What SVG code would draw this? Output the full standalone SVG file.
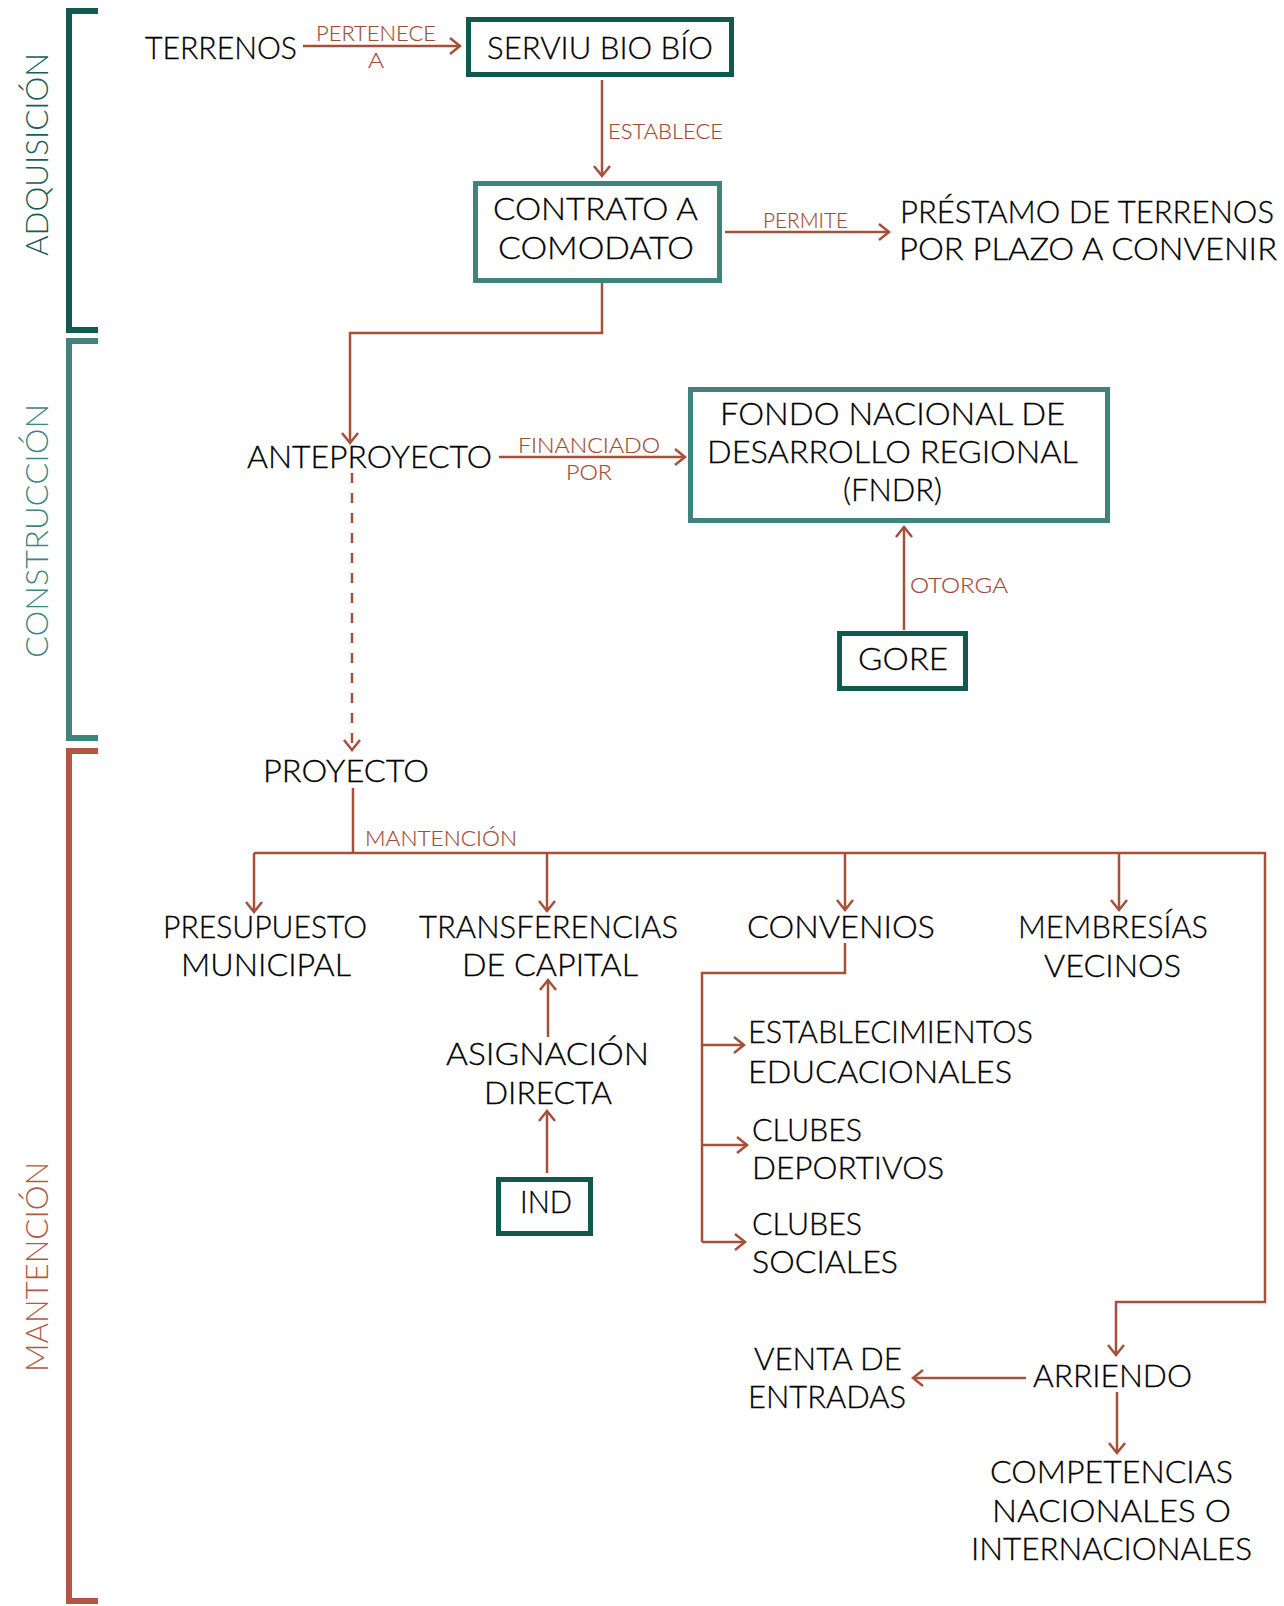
<svg xmlns="http://www.w3.org/2000/svg" width="1284" height="1606" viewBox="0 0 1284 1606">
<defs>
<style>
.t{font-family:Lato,"Liberation Sans",sans-serif;font-weight:300;font-size:31px;fill:#000;stroke:#000;stroke-width:0.3}
.l{font-family:Lato,"Liberation Sans",sans-serif;font-weight:300;font-size:22px;fill:#a04b35;stroke:#a04b35;stroke-width:0.2}
.v{font-family:Lato,"Liberation Sans",sans-serif;font-weight:300;font-size:31px}
.c{fill:none;stroke:#a4503a;stroke-width:2.5}
.a{marker-end:url(#arr)}
.bd{fill:#fff;stroke:#11594f;stroke-width:5}
.bl{fill:#fff;stroke:#3e847c;stroke-width:5}
.br{fill:none;stroke-width:6}
</style>
<marker id="arr" markerUnits="userSpaceOnUse" markerWidth="24" markerHeight="24" viewBox="-12 -12 24 24" refX="0" refY="0" orient="auto">
<path d="M-10,-8 L0,0 L-10,8" fill="none" stroke="#a4503a" stroke-width="2.5"/>
</marker>
</defs>
<rect width="1284" height="1606" fill="#fff"/>

<g id="brackets">
<path class="br" stroke="#14594f" d="M98,11 H69 V330 H98"/>
<path class="br" stroke="#41847c" d="M98,341 H69 V738 H98"/>
<path class="br" stroke="#b05641" d="M98,751 H69 V1601 H98"/>
<text class="v" fill="#1b5e55" transform="translate(48,256) rotate(-90)" textLength="203" lengthAdjust="spacingAndGlyphs">ADQUISICIÓN</text>
<text class="v" fill="#3f8580" transform="translate(48,658) rotate(-90)" textLength="254" lengthAdjust="spacingAndGlyphs">CONSTRUCCIÓN</text>
<text class="v" fill="#b05a45" transform="translate(48,1372) rotate(-90)" textLength="210" lengthAdjust="spacingAndGlyphs">MANTENCIÓN</text>
</g>

<g id="connectors">
<path class="c a" d="M303,46 H460"/>
<path class="c a" d="M602,80 V176"/>
<path class="c a" d="M725,232 H889"/>
<path class="c a" d="M602,283 V333 H350 V443"/>
<path class="c a" d="M499,457 H685"/>
<path class="c a" d="M904,630 V527"/>
<path class="c a" d="M352,473 V750" stroke-dasharray="10 10"/>
<path class="c" d="M353,788 V853"/>
<path class="c a" d="M254,853 H1265 V1302 H1116 V1355"/>
<path class="c a" d="M254,853 V912"/>
<path class="c a" d="M547,853 V911"/>
<path class="c a" d="M845,853 V910"/>
<path class="c a" d="M1119,853 V910"/>
<path class="c a" d="M548,1037 V980"/>
<path class="c a" d="M547,1173 V1111"/>
<path class="c" d="M845,943 V973 H702 V1242"/>
<path class="c a" d="M702,1045 H744"/>
<path class="c a" d="M702,1145 H747"/>
<path class="c a" d="M702,1242 H745"/>
<path class="c a" d="M1026,1378 H913"/>
<path class="c a" d="M1117,1392 V1453"/>
<text class="l" x="316" y="41" textLength="120" lengthAdjust="spacingAndGlyphs">PERTENECE</text>
<text class="l" x="368" y="68" textLength="16" lengthAdjust="spacingAndGlyphs">A</text>
<text class="l" x="608" y="139" textLength="115" lengthAdjust="spacingAndGlyphs">ESTABLECE</text>
<text class="l" x="763" y="228" textLength="85" lengthAdjust="spacingAndGlyphs">PERMITE</text>
<text class="l" x="518" y="453" textLength="142" lengthAdjust="spacingAndGlyphs">FINANCIADO</text>
<text class="l" x="566" y="480" textLength="46" lengthAdjust="spacingAndGlyphs">POR</text>
<text class="l" x="910" y="593" textLength="98" lengthAdjust="spacingAndGlyphs">OTORGA</text>
<text class="l" x="365" y="846" textLength="152" lengthAdjust="spacingAndGlyphs">MANTENCIÓN</text>
</g>

<g id="terrenos"><text class="t" x="145" y="59" textLength="152" lengthAdjust="spacingAndGlyphs">TERRENOS</text></g>
<g id="serviu"><rect class="bd" x="468.5" y="19.5" width="263" height="55"/><text class="t" x="487" y="59" textLength="226" lengthAdjust="spacingAndGlyphs">SERVIU BIO BÍO</text></g>
<g id="contrato"><rect class="bl" x="475.5" y="183.5" width="244" height="97"/><text class="t" x="493" y="220" textLength="205" lengthAdjust="spacingAndGlyphs">CONTRATO A</text><text class="t" x="498" y="259" textLength="196" lengthAdjust="spacingAndGlyphs">COMODATO</text></g>
<g id="prestamo"><text class="t" x="900" y="223" textLength="374" lengthAdjust="spacingAndGlyphs">PRÉSTAMO DE TERRENOS</text><text class="t" x="899" y="260" textLength="378" lengthAdjust="spacingAndGlyphs">POR PLAZO A CONVENIR</text></g>
<g id="anteproyecto"><text class="t" x="247" y="468" textLength="245" lengthAdjust="spacingAndGlyphs">ANTEPROYECTO</text></g>
<g id="fndr"><rect class="bl" x="690.5" y="389.5" width="417" height="131"/><text class="t" x="720" y="425" textLength="345" lengthAdjust="spacingAndGlyphs">FONDO NACIONAL DE</text><text class="t" x="707" y="463" textLength="371" lengthAdjust="spacingAndGlyphs">DESARROLLO REGIONAL</text><text class="t" x="843" y="501" textLength="99" lengthAdjust="spacingAndGlyphs">(FNDR)</text></g>
<g id="gore"><rect class="bd" x="839.5" y="633.5" width="126" height="55"/><text class="t" x="858" y="670" textLength="90" lengthAdjust="spacingAndGlyphs">GORE</text></g>
<g id="proyecto"><text class="t" x="263" y="782" textLength="166" lengthAdjust="spacingAndGlyphs">PROYECTO</text></g>
<g id="presupuesto"><text class="t" x="163" y="938" textLength="204" lengthAdjust="spacingAndGlyphs">PRESUPUESTO</text><text class="t" x="181" y="976" textLength="170" lengthAdjust="spacingAndGlyphs">MUNICIPAL</text></g>
<g id="transferencias"><text class="t" x="419" y="938" textLength="259" lengthAdjust="spacingAndGlyphs">TRANSFERENCIAS</text><text class="t" x="462" y="976" textLength="176" lengthAdjust="spacingAndGlyphs">DE CAPITAL</text></g>
<g id="convenios"><text class="t" x="747" y="938" textLength="188" lengthAdjust="spacingAndGlyphs">CONVENIOS</text></g>
<g id="membresias"><text class="t" x="1018" y="938" textLength="190" lengthAdjust="spacingAndGlyphs">MEMBRESÍAS</text><text class="t" x="1044" y="977" textLength="137" lengthAdjust="spacingAndGlyphs">VECINOS</text></g>
<g id="asignacion"><text class="t" x="446" y="1065" textLength="203" lengthAdjust="spacingAndGlyphs">ASIGNACIÓN</text><text class="t" x="484" y="1104" textLength="128" lengthAdjust="spacingAndGlyphs">DIRECTA</text></g>
<g id="ind"><rect class="bd" x="498.5" y="1179.5" width="92" height="54"/><text class="t" x="520" y="1213" textLength="52" lengthAdjust="spacingAndGlyphs">IND</text></g>
<g id="establecimientos"><text class="t" x="748" y="1043" textLength="285" lengthAdjust="spacingAndGlyphs">ESTABLECIMIENTOS</text><text class="t" x="748" y="1083" textLength="264" lengthAdjust="spacingAndGlyphs">EDUCACIONALES</text></g>
<g id="clubes-deportivos"><text class="t" x="752" y="1141" textLength="110" lengthAdjust="spacingAndGlyphs">CLUBES</text><text class="t" x="752" y="1179" textLength="192" lengthAdjust="spacingAndGlyphs">DEPORTIVOS</text></g>
<g id="clubes-sociales"><text class="t" x="752" y="1235" textLength="110" lengthAdjust="spacingAndGlyphs">CLUBES</text><text class="t" x="752" y="1273" textLength="146" lengthAdjust="spacingAndGlyphs">SOCIALES</text></g>
<g id="venta"><text class="t" x="754" y="1370" textLength="148" lengthAdjust="spacingAndGlyphs">VENTA DE</text><text class="t" x="748" y="1408" textLength="158" lengthAdjust="spacingAndGlyphs">ENTRADAS</text></g>
<g id="arriendo"><text class="t" x="1033" y="1387" textLength="159" lengthAdjust="spacingAndGlyphs">ARRIENDO</text></g>
<g id="competencias"><text class="t" x="990" y="1483" textLength="243" lengthAdjust="spacingAndGlyphs">COMPETENCIAS</text><text class="t" x="992" y="1522" textLength="239" lengthAdjust="spacingAndGlyphs">NACIONALES O</text><text class="t" x="971" y="1560" textLength="281" lengthAdjust="spacingAndGlyphs">INTERNACIONALES</text></g>
</svg>
